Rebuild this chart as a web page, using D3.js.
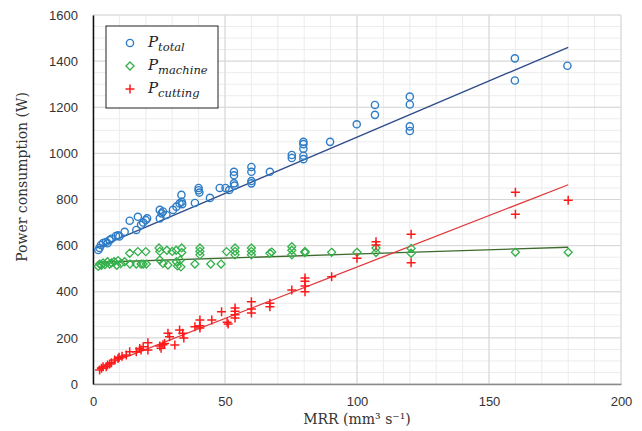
<!DOCTYPE html>
<html>

<head>
    <meta charset="utf-8">
    <style>
        body {
            margin: 0;
            background: #fff;
        }

        svg {
            font-family: 'DejaVu Serif', 'Liberation Serif', serif;
        }

        .tick-label {
            font-size: 13px;
            fill: #333;
        }

        .axis-title {
            font-size: 14px;
            fill: #333;
        }

        .legend-label {
            font-size: 15px;
            font-style: italic;
            fill: #222;
        }
    </style>
</head>

<body>
    <svg width="642" height="431"></svg>

    <script src="https://d3js.org/d3.v7.min.js"></script>
    <script>

        // [MRR, power]
        let totalPoints = [
            [2, 581], [2.5, 590], [3, 603], [3.8, 611], [4.9, 616], [5.5, 610], [6.3, 624], [7, 630],
            [8.7, 642], [9.5, 645], [10, 640], [12, 660], [13.9, 708], [16.4, 668], [17, 725], [18.2, 690],
            [19, 700], [20, 711], [20.5, 718], [25.3, 755], [26.5, 748], [25.3, 718], [27.8, 733], [26, 740],
            [30.3, 755], [31.6, 769], [32.8, 783], [33.5, 820], [33.6, 790], [33.8, 780], [38.6, 785],
            [40, 850], [40, 840], [40.3, 830], [44.3, 807], [48, 850], [50.2, 850], [51.6, 841],
            [53.4, 920], [53.4, 905], [53.4, 870], [53.6, 860], [60, 941], [60, 920], [60, 880], [60, 870],
            [67, 920], [75.3, 993], [75.3, 980], [79.7, 1050], [79.7, 1040], [79.7, 1020], [79.7, 990],
            [79.7, 975], [89.8, 1050], [99.9, 1126], [106.8, 1210], [106.8, 1167], [120, 1246], [120, 1212],
            [120, 1117], [120, 1097], [159.8, 1412], [159.8, 1316], [179.7, 1380]
        ]

        let machinePoints = [
            [2, 510], [2.5, 520], [3.2, 515], [3.8, 525], [4.5, 518], [5.5, 530], [6.3, 520], [7, 525],
            [8, 530], [9, 515], [9.5, 535], [10.5, 522], [12, 530], [13.9, 567], [14, 520], [16.4, 520],
            [17, 574], [18.2, 520], [19, 520], [20, 574], [20.2, 520], [25, 590], [25.3, 575], [25.3, 538],
            [26.5, 523], [28.4, 516], [28, 580], [30, 575], [31.5, 580], [31.6, 530], [32, 512], [33.6, 590],
            [33.6, 570], [33, 537], [33.3, 508], [38.6, 520], [40.5, 590], [40.5, 575], [40.5, 560],
            [44.6, 520], [48.5, 520], [50.6, 574], [53.8, 590], [53.8, 575], [53.8, 560], [60, 590],
            [60, 575], [60, 560], [67, 567], [67.7, 572], [75.3, 595], [75.3, 580], [75.3, 560], [80.3, 575],
            [80.3, 570], [90.4, 571], [100, 571], [107.2, 590], [107.2, 570], [120.5, 588], [120.5, 567],
            [160, 571], [180, 571]
        ]

        let cuttingPoints = [
            [2.5, 61], [3.2, 68], [3.8, 75], [5, 75], [5.5, 82], [6.3, 87], [7, 92], [8.2, 104], [9.5, 111],
            [9.9, 116], [11, 120], [12.6, 126], [13.9, 140], [16.4, 140], [17.7, 154], [18.2, 147], [19, 162],
            [20.8, 179], [20.8, 147], [25.3, 165], [25.8, 155], [26.5, 170], [27.1, 176], [28.4, 220],
            [29, 205], [31, 169], [32.8, 234], [34, 220], [34.4, 199], [38.6, 248], [40.5, 278], [40.5, 253],
            [40.5, 243], [45, 278], [48.7, 313], [50.8, 268], [51.2, 260], [53.8, 330], [53.8, 315],
            [53.8, 300], [53.8, 286], [60, 357], [60, 325], [60, 308], [67, 350], [67, 335], [75.3, 408],
            [80.3, 460], [80.3, 446], [80.3, 425], [80.3, 400], [90.4, 465], [100, 545], [107.2, 617],
            [107.2, 603], [120.5, 649], [120.5, 526], [160, 831], [160, 736], [180, 797]
        ]

        // linear trendlines (ends)
        let totalTrend = [[1.5, 590], [180, 1460]]
        let machineTrend = [[1.5, 528], [180, 593]]
        let cuttingTrend = [[1.5, 68], [180, 864]]

        let xTicks = [0, 50, 100, 150, 200]
        let yTicks = [0, 200, 400, 600, 800, 1000, 1200, 1400, 1600]
        let seriesNames = ["total", "machine", "cutting"]

        let margin = { top: 15, right: 21, bottom: 47, left: 93 }
        let width = 642
        let height = 431

        let svg = d3.select("svg")

        let x = d3.scaleLinear()
            .domain([0, 200])
            .range([margin.left, width - margin.right])

        let y = d3.scaleLinear()
            .domain([0, 1600])
            .range([height - margin.bottom, margin.top])

        // grid: minor first, then major
        let grid = svg.append("g")

        grid.selectAll(".vminor")
            .data(d3.range(0, 201, 10))
            .join("line")
            .attr("x1", d => x(d)).attr("x2", d => x(d))
            .attr("y1", y(0)).attr("y2", y(1600))
            .attr("stroke", "#ececec")

        grid.selectAll(".hminor")
            .data(d3.range(0, 1601, 50))
            .join("line")
            .attr("x1", x(0)).attr("x2", x(200))
            .attr("y1", d => y(d)).attr("y2", d => y(d))
            .attr("stroke", "#ececec")

        grid.selectAll(".vmajor")
            .data(xTicks)
            .join("line")
            .attr("x1", d => x(d)).attr("x2", d => x(d))
            .attr("y1", y(0)).attr("y2", y(1600))
            .attr("stroke", "#d6d6d6")

        grid.selectAll(".hmajor")
            .data(yTicks)
            .join("line")
            .attr("x1", x(0)).attr("x2", x(200))
            .attr("y1", d => y(d)).attr("y2", d => y(d))
            .attr("stroke", "#d6d6d6")

        // axes
        let xAxis = svg.append("g")
            .attr("transform", `translate(0,${y(0)})`)
            .call(d3.axisBottom(x).tickValues(xTicks).tickFormat(d3.format("d")).tickSize(0).tickPadding(13))
        xAxis.select(".domain").attr("stroke", "#8a8a8a").attr("stroke-width", 1.5)
        xAxis.selectAll("text").attr("class", "tick-label").attr("font-family", null).attr("font-size", null)

        let yAxis = svg.append("g")
            .attr("transform", `translate(${x(0)},0)`)
            .call(d3.axisLeft(y).tickValues(yTicks).tickFormat(d3.format("d")).tickSize(0).tickPadding(15))
        yAxis.select(".domain").attr("stroke", "#111").attr("stroke-width", 1.5)
        yAxis.selectAll("text").attr("class", "tick-label").attr("font-family", null).attr("font-size", null)

        svg.append("text")
            .attr("class", "axis-title")
            .attr("x", 357)
            .attr("y", 424)
            .attr("text-anchor", "middle")
            .text("MRR (mm³ s⁻¹)")

        svg.append("text")
            .attr("class", "axis-title")
            .attr("transform", "translate(27,177) rotate(-90)")
            .attr("text-anchor", "middle")
            .text("Power consumption (W)")

        // trend lines
        let line = d3.line()
            .x(d => x(d[0]))
            .y(d => y(d[1]))

        svg.append("path").datum(totalTrend).attr("d", line)
            .attr("fill", "none").attr("stroke", "#2f4d8a").attr("stroke-width", 1.3)
        svg.append("path").datum(machineTrend).attr("d", line)
            .attr("fill", "none").attr("stroke", "#3d6b2e").attr("stroke-width", 1.3)
        svg.append("path").datum(cuttingTrend).attr("d", line)
            .attr("fill", "none").attr("stroke", "#e0393c").attr("stroke-width", 1.3)

        // markers
        function drawCircle(g, px, py) {
            g.append("circle")
                .attr("cx", px).attr("cy", py).attr("r", 3.6)
                .attr("fill", "none").attr("stroke", "#2e7cc6").attr("stroke-width", 1.4)
        }

        function drawDiamond(g, px, py) {
            g.append("path")
                .attr("d", "M0,-4L4,0L0,4L-4,0Z")
                .attr("transform", `translate(${px},${py})`)
                .attr("fill", "none").attr("stroke", "#33b04a").attr("stroke-width", 1.3)
        }

        function drawPlus(g, px, py) {
            g.append("path")
                .attr("d", "M-4.5,0H4.5M0,-4.5V4.5")
                .attr("transform", `translate(${px},${py})`)
                .attr("fill", "none").attr("stroke", "#ff1a1a").attr("stroke-width", 1.5)
        }

        let marks = svg.append("g")
        machinePoints.forEach(d => drawDiamond(marks, x(d[0]), y(d[1])))
        cuttingPoints.forEach(d => drawPlus(marks, x(d[0]), y(d[1])))
        totalPoints.forEach(d => drawCircle(marks, x(d[0]), y(d[1])))

        // legend
        let legend = svg.append("g")
        legend.append("rect")
            .attr("x", 106).attr("y", 26)
            .attr("width", 112).attr("height", 82)
            .attr("fill", "#fff").attr("stroke", "#222").attr("stroke-width", 1)

        let drawers = [drawCircle, drawDiamond, drawPlus]
        seriesNames.forEach((name, i) => {
            let ly = 43 + i * 23
            drawers[i](legend, 130, ly)
            let t = legend.append("text")
                .attr("class", "legend-label")
                .attr("x", 148)
                .attr("y", ly + 4)
            t.append("tspan").text("P")
            t.append("tspan").attr("dy", 4).attr("font-size", 11.5).text(name)
        })

    </script>
</body>

</html>
